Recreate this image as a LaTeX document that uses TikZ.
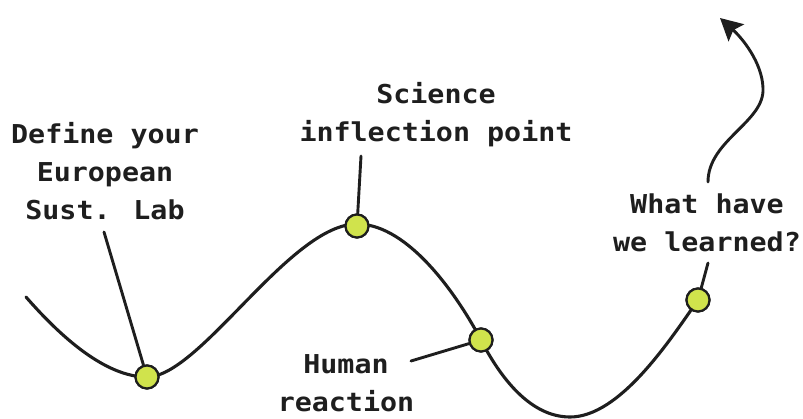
\documentclass[tikz,border=0pt]{standalone}
\usepackage{fontspec}
\newfontfamily\labelfont[FakeStretch=1.09]{DejaVu Sans Mono}
\usetikzlibrary{arrows.meta}
\definecolor{ink}{HTML}{1E1E1E}
\definecolor{dotfill}{HTML}{D0E34C}
\tikzset{
  lbl/.style={text=ink, align=center, inner sep=0pt, font=\labelfont\bfseries\fontsize{26}{38}\selectfont},
  wave/.style={draw=ink, line width=3.1pt, line cap=round},
  conn/.style={draw=ink, line width=2.9pt, line cap=round},
  dotnode/.style={circle, draw=ink, fill=dotfill, line width=2.2pt, minimum size=23pt, inner sep=0pt},
}
\begin{document}
\begin{tikzpicture}[x=1pt,y=-1pt]
\useasboundingbox (0,0) rectangle (803,418);
% labels
\node[lbl] (define) at (105,171) {Define your\\European\\Sust. Lab};
\node[lbl] (science) at (436,115) {Science\\inflection point};
\node[lbl] (human) at (346,383) {Human\\reaction};
\node[lbl] (learned) at (707,223) {What have\\we learned?};
% dots
\node[dotnode] (d1) at (147,377) {};
\node[dotnode] (d2) at (357,226) {};
\node[dotnode] (d3) at (481,340) {};
\node[dotnode] (d4) at (698,300) {};
% connector free ends
\coordinate (defineEnd) at (104,232);
\coordinate (scienceEnd) at (361,156);
\coordinate (humanEnd) at (411,361);
\coordinate (learnedEnd) at (708,263);
\coordinate (arrowStart) at (708,182);
\coordinate (arrowTip) at (720,18);
% wave
\path[wave] (26,297) .. controls (60,336) and (105,377) .. (d1.center)
  .. controls (200,377) and (290,224) .. (357,224)
  .. controls (410,224) and (460,300) .. (d3.center)
  .. controls (500,377) and (530,417) .. (570,417)
  .. controls (620,417) and (670,340) .. (d4.center);
% connectors
\draw[conn] (defineEnd) -- (d1);
\draw[conn] (scienceEnd) -- (d2);
\draw[conn] (humanEnd) -- (d3);
\draw[conn] (learnedEnd) -- (d4);
\draw[conn, -{Stealth[length=22pt, width=23pt, inset=4pt]}] (arrowStart)
  .. controls (708,140) and (765,122) .. (763,88)
  .. controls (762,62) and (742,38) .. (arrowTip);
% dots on top
\node[dotnode] at (d1) {};
\node[dotnode] at (d2) {};
\node[dotnode] at (d3) {};
\node[dotnode] at (d4) {};
\end{tikzpicture}
\end{document}
